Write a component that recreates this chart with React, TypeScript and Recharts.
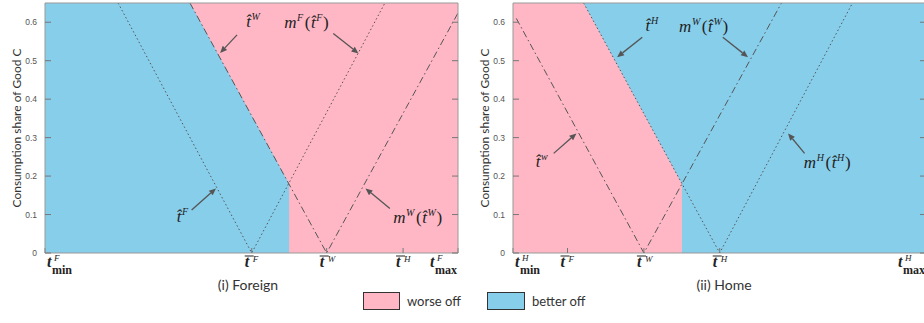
import React from 'react';
import {
  ComposedChart,
  Area,
  Line,
  XAxis,
  YAxis,
  CartesianGrid,
  ReferenceDot,
  ReferenceLine,
} from 'recharts';

// y axis
const shareTicks = [0, 0.1, 0.2, 0.3, 0.4, 0.5, 0.6];

// (i) Foreign
const foreignTickValues = [0, 50.05, 68.2, 86.7, 100];
const foreignTickLabels = ['min:F', 'bar:F', 'bar:W', 'bar:H', 'max:F'];
const foreignBetterOff = [
  { x: 0, y: 0.65 },
  { x: 35.1, y: 0.65 },
  { x: 59.1, y: 0.18 },
  { x: 59.1, y: 0 },
];
const foreignHatF = [
  { x: 17.7, y: 0.65 },
  { x: 50.05, y: 0 },
  { x: 82.3, y: 0.65 },
];
const foreignHatW = [
  { x: 35.1, y: 0.65 },
  { x: 68.2, y: 0 },
  { x: 100, y: 0.624 },
];
const foreignNotes = [
  { x: 48.7, y: 0.588, m: '', t: 'W' },
  { x: 57.9, y: 0.585, m: 'F', t: 'F' },
  { x: 31.9, y: 0.081, m: '', t: 'F' },
  { x: 84.3, y: 0.078, m: 'W', t: 'W' },
];
const foreignArrows = [
  { x1: 46.5, y1: 0.567, x2: 42.4, y2: 0.52 },
  { x1: 69.8, y1: 0.571, x2: 75.9, y2: 0.519 },
  { x1: 35.5, y1: 0.112, x2: 41.4, y2: 0.168 },
  { x1: 83.5, y1: 0.116, x2: 77.6, y2: 0.168 },
];

// (ii) Home
const homeTickValues = [0, 13.2, 31.7, 50.05, 100];
const homeTickLabels = ['min:H', 'bar:F', 'bar:W', 'bar:H', 'max:H'];
const homeWorseOff = [
  { x: 0, y: 0.65 },
  { x: 17.1, y: 0.65 },
  { x: 40.9, y: 0.18 },
  { x: 40.9, y: 0 },
];
const homeHatW = [
  { x: 0.8, y: 0.61 },
  { x: 31.7, y: 0 },
  { x: 65, y: 0.65 },
];
const homeHatH = [
  { x: 17.1, y: 0.65 },
  { x: 50.05, y: 0 },
  { x: 82.2, y: 0.65 },
];
const homeNotes = [
  { x: 32.1, y: 0.577, m: '', t: 'H' },
  { x: 40.2, y: 0.574, m: 'W', t: 'W' },
  { x: 5.5, y: 0.224, m: '', t: 'w' },
  { x: 70.4, y: 0.22, m: 'H', t: 'H' },
];
const homeArrows = [
  { x1: 31.3, y1: 0.561, x2: 25.2, y2: 0.509 },
  { x1: 50.8, y1: 0.561, x2: 56.9, y2: 0.509 },
  { x1: 9.85, y1: 0.259, x2: 15.35, y2: 0.311 },
  { x1: 70.6, y1: 0.259, x2: 66.6, y2: 0.311 },
];

const BLUE = '#87CEEB';
const PINK = '#FFB7C5';
const INK = '#222';
const LINE = '#555';
const MATH = '"Liberation Serif", serif';

const ArrowShape = (p: any) => {
  const { x1, y1, x2, y2 } = p;
  const a = Math.atan2(y2 - y1, x2 - x1);
  const len = 7;
  const w = 3;
  const bx = x2 - len * Math.cos(a);
  const by = y2 - len * Math.sin(a);
  const pts = `${x2},${y2} ${bx + w * Math.sin(a)},${by - w * Math.cos(a)} ${bx - w * Math.sin(a)},${by + w * Math.cos(a)}`;
  return (
    <g>
      <line x1={x1} y1={y1} x2={bx} y2={by} stroke={LINE} strokeWidth={1.3} />
      <polygon points={pts} fill={LINE} />
    </g>
  );
};

const NoteLabel = ({ cx, cy, m, t }: any) => (
  <text x={cx} y={cy} fontFamily={MATH} fontStyle="italic" fontSize={17} letterSpacing={0.6} fill={INK}>
    {m ? <tspan>m</tspan> : null}
    {m ? <tspan dy={-7} fontSize={10}>{m}</tspan> : null}
    {m ? <tspan dy={7} dx={1} fontStyle="normal">(</tspan> : null}
    <tspan>{'t\u0302'}</tspan>
    <tspan dy={-7} fontSize={10}>{t}</tspan>
    {m ? <tspan dy={7} fontStyle="normal">)</tspan> : null}
  </text>
);

const XTickLabel = ({ x, y, payload, values, labels }: any) => {
  const i = values.indexOf(payload.value);
  const [kind, letter] = (labels[i] || '').split(':');
  if (kind === 'bar') {
    return (
      <g>
        <line x1={x - 7} y1={y + 3} x2={x + 2} y2={y + 3} stroke={INK} strokeWidth={1} />
        <text x={x - 7} y={y + 14} fontFamily={MATH} fontStyle="italic" fontWeight="bold" fontSize={16} fill={INK}>t</text>
        <text x={x + 1} y={y + 9} fontFamily={MATH} fontStyle="italic" fontSize={9} fill={INK}>{letter}</text>
      </g>
    );
  }
  const sx = kind === 'min' ? x + 2 : x - 28;
  return (
    <g>
      <text x={sx} y={y + 14} fontFamily={MATH} fontStyle="italic" fontWeight="bold" fontSize={16} fill={INK}>t</text>
      <text x={sx + 7} y={y + 8} fontFamily={MATH} fontStyle="italic" fontSize={9} fill={INK}>{letter}</text>
      <text x={sx + 5} y={y + 21} fontFamily={MATH} fontWeight="bold" fontSize={12} fill={INK}>{kind}</text>
    </g>
  );
};

const YTitle = (p: any) => {
  const vb = p.viewBox || { x: 0, y: 0, height: 0 };
  return (
    <text
      transform={`translate(${vb.x + 16},${vb.y + vb.height / 2}) rotate(-90)`}
      textAnchor="middle"
      dominantBaseline="central"
      fontFamily="Lato, sans-serif"
      fontSize={12}
      fill="#333"
    >
      Consumption share of Good C
    </text>
  );
};

const Panel = ({ left, bg, regionColor, region, dotted, dashDot, tickValues, tickLabels, notes, arrows }: any) => (
  <div style={{ position: 'absolute', left, top: 0 }}>
    <ComposedChart width={470} height={282} margin={{ top: 2, right: 11, bottom: 0, left: 0 }}>
      <CartesianGrid horizontal={false} vertical={false} fill={bg} fillOpacity={1} stroke="none" />
      <XAxis
        dataKey="x"
        type="number"
        domain={[0, 100]}
        allowDataOverflow
        ticks={tickValues}
        interval={0}
        height={29}
        tickSize={-5}
        tickMargin={5}
        axisLine={{ stroke: '#999' }}
        tickLine={{ stroke: '#777' }}
        tick={(p: any) => <XTickLabel {...p} values={tickValues} labels={tickLabels} />}
      />
      <XAxis
        xAxisId="top"
        orientation="top"
        type="number"
        domain={[0, 100]}
        allowDataOverflow
        ticks={tickValues}
        interval={0}
        height={1}
        tickSize={-5}
        axisLine={{ stroke: '#999' }}
        tickLine={{ stroke: '#777' }}
        tick={() => <g />}
      />
      <YAxis
        type="number"
        domain={[0, 0.65]}
        allowDataOverflow
        ticks={shareTicks}
        interval={0}
        width={45}
        tickSize={-6}
        tickMargin={14}
        axisLine={{ stroke: '#999' }}
        tickLine={{ stroke: '#777' }}
        tick={{ fontSize: 8.5, fill: '#555', fontFamily: '"Liberation Sans", sans-serif' }}
        tickFormatter={(v: number) => (v === 0 ? '0' : v.toFixed(1))}
        label={{ content: YTitle }}
      />
      <YAxis
        yAxisId="right"
        orientation="right"
        type="number"
        domain={[0, 0.65]}
        allowDataOverflow
        ticks={shareTicks}
        interval={0}
        width={1}
        tickSize={-6}
        axisLine={{ stroke: '#999' }}
        tickLine={{ stroke: '#777' }}
        tick={() => <g />}
      />
      <Area
        data={region}
        dataKey="y"
        type="linear"
        fill={regionColor}
        fillOpacity={1}
        stroke="none"
        baseValue={0}
        isAnimationActive={false}
      />
      <Line
        data={dotted}
        dataKey="y"
        type="linear"
        stroke={LINE}
        strokeWidth={1}
        strokeDasharray="1.5 2.5"
        dot={false}
        isAnimationActive={false}
      />
      <Line
        data={dashDot}
        dataKey="y"
        type="linear"
        stroke={LINE}
        strokeWidth={1}
        strokeDasharray="7 3 1.5 3"
        dot={false}
        isAnimationActive={false}
      />
      {arrows.map((a: any, i: number) => (
        <ReferenceLine
          key={`a${i}`}
          segment={[{ x: a.x1, y: a.y1 }, { x: a.x2, y: a.y2 }]}
          ifOverflow="visible"
          shape={ArrowShape}
        />
      ))}
      {notes.map((n: any, i: number) => (
        <ReferenceDot
          key={`n${i}`}
          x={n.x}
          y={n.y}
          r={0}
          ifOverflow="visible"
          shape={(p: any) => <NoteLabel cx={p.cx} cy={p.cy} m={n.m} t={n.t} />}
        />
      ))}
    </ComposedChart>
  </div>
);

const textStyle: React.CSSProperties = {
  position: 'absolute',
  fontFamily: 'Lato, sans-serif',
  color: '#333',
  whiteSpace: 'nowrap',
};

export default function App() {
  return (
    <div style={{ position: 'absolute', left: 0, top: 0, width: 924, height: 323, overflow: 'hidden', background: '#fff' }}>
      <Panel
        left={0}
        bg={PINK}
        regionColor={BLUE}
        region={foreignBetterOff}
        dotted={foreignHatF}
        dashDot={foreignHatW}
        tickValues={foreignTickValues}
        tickLabels={foreignTickLabels}
        notes={foreignNotes}
        arrows={foreignArrows}
      />
      <Panel
        left={468}
        bg={BLUE}
        regionColor={PINK}
        region={homeWorseOff}
        dotted={homeHatH}
        dashDot={homeHatW}
        tickValues={homeTickValues}
        tickLabels={homeTickLabels}
        notes={homeNotes}
        arrows={homeArrows}
      />
      <div style={{ ...textStyle, left: 248, top: 276, fontSize: 14, lineHeight: '18px', transform: 'translateX(-50%)' }}>
        (i) Foreign
      </div>
      <div style={{ ...textStyle, left: 724, top: 276, fontSize: 14, lineHeight: '18px', transform: 'translateX(-50%)' }}>
        (ii) Home
      </div>
      <div style={{ position: 'absolute', left: 363, top: 292, width: 35, height: 16, background: PINK, border: '1.5px solid #333' }} />
      <div style={{ ...textStyle, left: 407, top: 292, fontSize: 13, lineHeight: '18px' }}>worse off</div>
      <div style={{ position: 'absolute', left: 487, top: 292, width: 36, height: 16, background: BLUE, border: '1.5px solid #333' }} />
      <div style={{ ...textStyle, left: 532, top: 292, fontSize: 13, lineHeight: '18px' }}>better off</div>
    </div>
  );
}
